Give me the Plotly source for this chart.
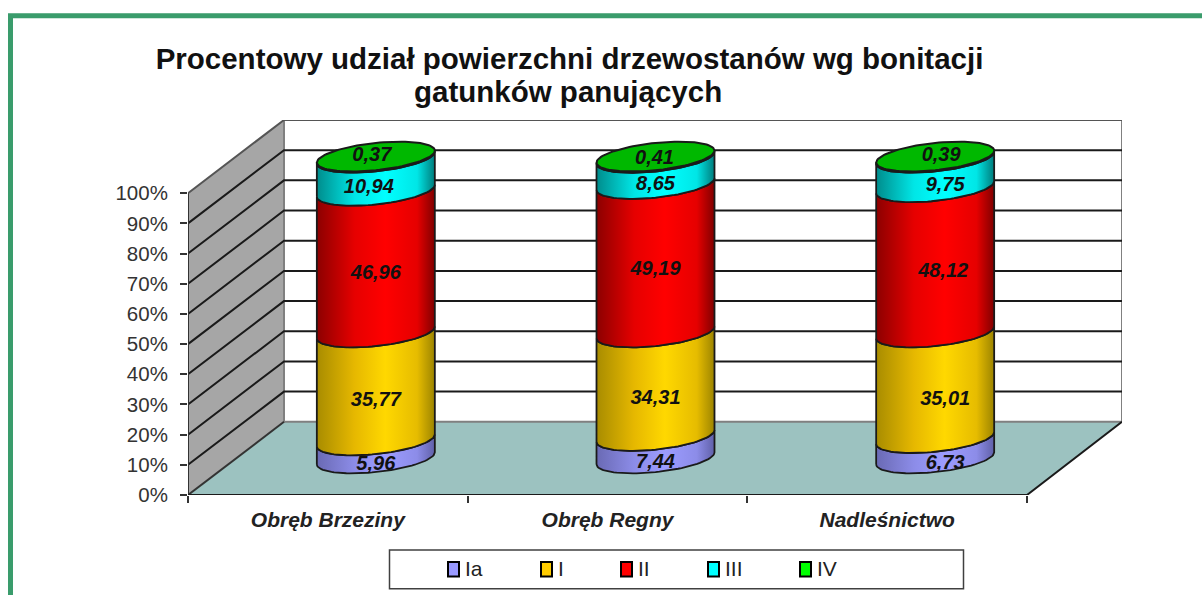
import math
import plotly.graph_objects as go

categories = ["Obręb Brzeziny", "Obręb Regny", "Nadleśnictwo"]
series_names = ["Ia", "I", "II", "III", "IV"]
ia = [5.96, 7.44, 6.73]
i_ = [35.77, 34.31, 35.01]
ii = [46.96, 49.19, 48.12]
iii = [10.94, 8.65, 9.75]
iv = [0.37, 0.41, 0.39]
series_values = [ia, i_, ii, iii, iv]
y_ticks = [0, 10, 20, 30, 40, 50, 60, 70, 80, 90, 100]
y_tick_labels = [f"{v}%" for v in y_ticks]
title_line_1 = "Procentowy udział powierzchni drzewostanów wg bonitacji"
title_line_2 = "gatunków panujących"

# ---- styling / geometry (pixels of the 1202x595 canvas)
W, H = 1202, 595
X0, X3, XR = 188, 1027, 1122          # front-left, front-right, back-right
Y0, Y100, YT = 495.5, 193.3, 120.0    # 0%, 100% on the front axis, back-wall top
PX_X = (X3 - X0) / 3
PX_Y = (Y0 - Y100) / 100
DEPTH_X = (284 - X0) / PX_X           # oblique offset of the back wall in data units
DEPTH_Y = (Y100 - YT) / PX_Y
R_A, R_B, R_S = 59 / PX_X, 13.7 / PX_Y, 6 / PX_Y  # cylinder ellipse radii and tilt
FONT = "Liberation Sans, Arial, sans-serif"
face_scales = [
    ["#6a6ab4", "#8c8ce8", "#9c9cff", "#8c8ce8", "#6060a8"],
    ["#a88c00", "#e6b800", "#ffd800", "#e6bc00", "#9c8400"],
    ["#8c0000", "#e60000", "#ff0000", "#e60000", "#800000"],
    ["#008c8c", "#00e6e6", "#00ffff", "#00e6e6", "#007c7c"],
    ["#006800", "#00a800", "#00b800", "#00a800", "#006000"],
]
GRAD_POS = [0, 0.32, 0.58, 0.85, 1]
CAP = "#00b800"
LEG_COL = ["#9999ff", "#ffcc00", "#ff0000", "#00ffff", "#00ff00"]
LEG_X = [447, 540, 620, 707, 799]
# fine label nudges in px by column, series
NUDGE_X = [[0, 0, 0, -7, -4], [0, 0, 0, 0, -1], [10, 10, 8, 10, 6]]
NUDGE_Y = [16, 14.5, 12, 14, [1, -2, 1]]


def fx(px):
    return (px - X0) / (XR - X0)


def fy(py):
    return (Y0 - py) / (Y0 - YT)


def ell(cx, cy, t):
    return cx + R_A * math.cos(t), cy + R_B * math.sin(t) + R_S * math.cos(t)


fig = go.Figure()


def poly(xs, ys, fill, line="rgba(0,0,0,0)", w=0, grad=None):
    kw = dict(fillgradient=dict(type="horizontal", colorscale=grad)) if grad else dict(fillcolor=fill)
    fig.add_trace(go.Scatter(x=xs, y=ys, mode="lines", fill="toself", line=dict(color=line, width=w),
                             hoverinfo="skip", showlegend=False, **kw))


def seg(xs, ys, color="#1a1a1a", w=2):
    fig.add_trace(go.Scatter(x=xs, y=ys, mode="lines", line=dict(color=color, width=w),
                             hoverinfo="skip", showlegend=False, cliponaxis=False))


# walls and floor
xr = (XR - X0) / PX_X
ytop = (Y0 - YT) / PX_Y
poly([DEPTH_X, xr, xr, DEPTH_X, DEPTH_X], [DEPTH_Y, DEPTH_Y, 100 + DEPTH_Y, 100 + DEPTH_Y, DEPTH_Y], "#ffffff")
poly([0, DEPTH_X, DEPTH_X, 0, 0], [0, DEPTH_Y, 100 + DEPTH_Y, 100, 0], "#a6a6a6")
poly([0, 3, xr, DEPTH_X, 0], [0, 0, DEPTH_Y, DEPTH_Y, 0], "#9cc2c0")
seg([DEPTH_X, xr, xr, DEPTH_X, DEPTH_X], [DEPTH_Y, DEPTH_Y, 100 + DEPTH_Y, 100 + DEPTH_Y, DEPTH_Y], "#808080", 2)
for v in y_ticks[1:-1]:
    seg([0, DEPTH_X, xr], [v, v + DEPTH_Y, v + DEPTH_Y])
seg([0, DEPTH_X, xr], [100, 100 + DEPTH_Y, 100 + DEPTH_Y], "#555555")
seg([0, DEPTH_X], [0, DEPTH_Y], "#333333")
seg([0, 0], [0, 100], "#333333")
seg([0, 3, xr], [0, 0, DEPTH_Y], "#1a1a1a")

# cylinders
label_x, label_y, label_t = [], [], []
N = 49
for c in range(len(categories)):
    cx = c + 0.5 + DEPTH_X / 2
    base = DEPTH_Y / 2
    low = 0.0
    for s, vals in enumerate(series_values):
        v = vals[c]
        hi = low + v
        bot = [ell(cx, base + low, math.pi + math.pi * k / (N - 1)) for k in range(N)]
        top = [ell(cx, base + hi, math.pi + math.pi * k / (N - 1)) for k in range(N)][::-1]
        pts = bot + top + bot[:1]
        grad = [[p, col] for p, col in zip(GRAD_POS, face_scales[s])]
        poly([p[0] for p in pts], [p[1] for p in pts], None, "#1a1a1a", 1.8, grad)
        mid = (low + hi) / 2 + base
        dy = NUDGE_Y[s][c] if isinstance(NUDGE_Y[s], list) else -NUDGE_Y[s]
        label_x.append(cx + NUDGE_X[c][s] / PX_X)
        label_y.append(mid + dy / PX_Y)
        label_t.append(f"{v:.2f}".replace(".", ","))
        low = hi
    cap = [ell(cx, base + low, 2 * math.pi * k / 96) for k in range(97)]
    poly([p[0] for p in cap], [p[1] for p in cap], CAP, "#1a1a1a", 2)

fig.add_trace(go.Scatter(x=label_x, y=label_y, text=label_t, mode="text", hoverinfo="skip", showlegend=False,
                         textposition="middle center",
                         textfont=dict(family=FONT, size=20, color="#111111", weight="bold", style="italic")))

# frame and legend box
shapes = [
    dict(type="path", path=f"M {fx(10.5)} {fy(596)} L {fx(10.5)} {fy(15.5)} L {fx(1203)} {fy(15.5)}",
         xref="paper", yref="paper", line=dict(color="#3a9c6c", width=5)),
    dict(type="rect", xref="paper", yref="paper", x0=fx(389.5), x1=fx(963.5), y0=fy(589.5), y1=fy(550.5),
         line=dict(color="#404040", width=1.5), fillcolor="#ffffff"),
]
annotations = [dict(text=title_line_2, xref="paper", yref="paper", x=fx(567.5), y=fy(91), xanchor="center",
                    yanchor="middle", showarrow=False,
                    font=dict(family=FONT, size=29.5, color="#111111", weight="bold"))]
for name, col, lx in zip(series_names, LEG_COL, LEG_X):
    shapes.append(dict(type="rect", xref="paper", yref="paper", x0=fx(lx + 1), x1=fx(lx + 12), y0=fy(577), y1=fy(562.5),
                       line=dict(color="#000000", width=2), fillcolor=col))
    annotations.append(dict(text=name, xref="paper", yref="paper", x=fx(lx + 16), y=fy(569), xanchor="left",
                            yanchor="middle", showarrow=False, font=dict(family=FONT, size=21, color="#222222")))

fig.update_layout(
    width=W, height=H, autosize=False,
    margin=dict(l=X0, r=W - XR, t=YT, b=H - Y0, pad=0),
    paper_bgcolor="#ffffff", plot_bgcolor="rgba(0,0,0,0)", showlegend=False,
    title=dict(text=title_line_1, x=569.5 / W, xanchor="center", y=1 - 59 / H, yanchor="middle",
               font=dict(family=FONT, size=29.5, color="#111111", weight="bold")),
    xaxis=dict(range=[0, xr], showgrid=False, zeroline=False, showline=False,
               tickmode="array", tickvals=[0.5, 1.5, 2.5], ticktext=categories, ticks="", ticklabelstandoff=10,
               tickfont=dict(family=FONT, size=21, color="#222222", weight="bold", style="italic"),
               minor=dict(tickmode="array", tickvals=[0, 1, 2, 3], ticks="outside", ticklen=7, tickwidth=1.5,
                          tickcolor="#333333", showgrid=False)),
    yaxis=dict(range=[0, ytop], showgrid=False, zeroline=False, showline=False,
               tickmode="array", tickvals=y_ticks, ticktext=y_tick_labels, ticks="outside", ticklen=7, tickwidth=1.5,
               tickcolor="#333333", ticklabelstandoff=8,
               tickfont=dict(family=FONT, size=20.5, color="#333333")),
    shapes=shapes, annotations=annotations,
)
fig.write_html("out.html", config={"displayModeBar": False}, post_script="document.body.style.margin='0';")
